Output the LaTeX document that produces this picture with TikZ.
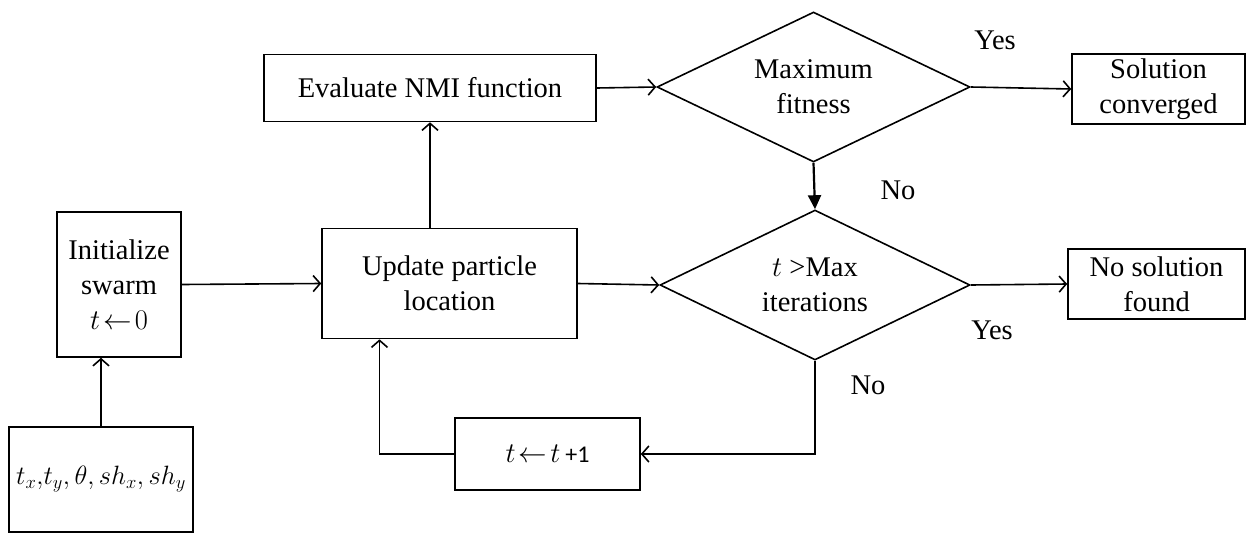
\RequirePackage{fix-cm}
\documentclass[tikz,border=0pt]{standalone}
\usepackage{fontspec}
\setmainfont{Liberation Serif}
\newfontfamily\carlitofont{Carlito}
\usetikzlibrary{shapes.geometric,arrows.meta}
\begin{document}
\begin{tikzpicture}[x=1pt,y=-1pt,
  font=\fontsize{28.5}{35}\selectfont,
  box/.style={draw,line width=1.6pt,inner sep=0pt,align=center},
  dec/.style={draw,diamond,line width=1.6pt,inner sep=0pt,align=center,aspect=2.09},
  conn/.style={line width=1.6pt,-{Straight Barb[length=7pt,width=16pt,line width=1.6pt]}},
  thickconn/.style={line width=2.2pt,-{Triangle[length=14pt,width=13pt]}},
  lbl/.style={inner sep=0pt}
]
\useasboundingbox (0,0) rectangle (1254,533);

\node[box,minimum width=332pt,minimum height=67pt] (eval) at (430,88) {Evaluate NMI function};
\node[dec,minimum width=313pt,minimum height=150pt] (maxfit) at (813.5,87) {Maximum\\fitness};
\node[box,minimum width=173pt,minimum height=70pt] (conv) at (1158.5,89) {Solution\\converged};

\node[box,minimum width=124pt,minimum height=145pt] (init) at (119,284.5) {Initialize\\swarm\\$t\!\leftarrow\!0$};
\node[box,minimum width=255pt,minimum height=110pt] (update) at (449.5,283.5) {Update particle\\location};
\node[dec,minimum width=310pt,minimum height=150pt] (tmax) at (815,285) {$t$ >Max\\iterations};
\node[box,minimum width=177pt,minimum height=70pt] (nosol) at (1156.5,284) {No solution\\found};

\node[box,minimum width=184pt,minimum height=105pt] (params) at (101,479.5) {\scalebox{0.93}{$t_x{,}t_y{,}\,\theta{,}\,sh_x{,}\,sh_y$}};
\node[box,minimum width=185pt,minimum height=72pt] (incr) at (547.5,454) {$t\!\leftarrow\!t$\,{\carlitofont\fontsize{24}{28}\selectfont +1}};

\node[lbl] (yes1) at (995,40) {Yes};
\node[lbl] (no1) at (898,190) {No};
\node[lbl] (yes2) at (992,330) {Yes};
\node[lbl] (no2) at (868,385) {No};

\coordinate (ubot) at ([xshift=-70pt]update.south);

\draw[conn] (params.north) -- (params.north |- init.south);
\draw[conn] (init.east) -- (update.west);
\draw[conn] (update.north -| eval.south) -- (eval.south);
\draw[conn] (eval.east) -- (maxfit.west);
\draw[conn] (maxfit.east) -- (conv.west);
\draw[thickconn] (maxfit.south) -- (tmax.north);
\draw[conn] (update.east) -- (tmax.west);
\draw[conn] (tmax.east) -- (nosol.west);
\draw[conn] (tmax.south) |- (incr.east);
\draw[conn] (incr.west) -| (ubot);
\end{tikzpicture}
\end{document}
